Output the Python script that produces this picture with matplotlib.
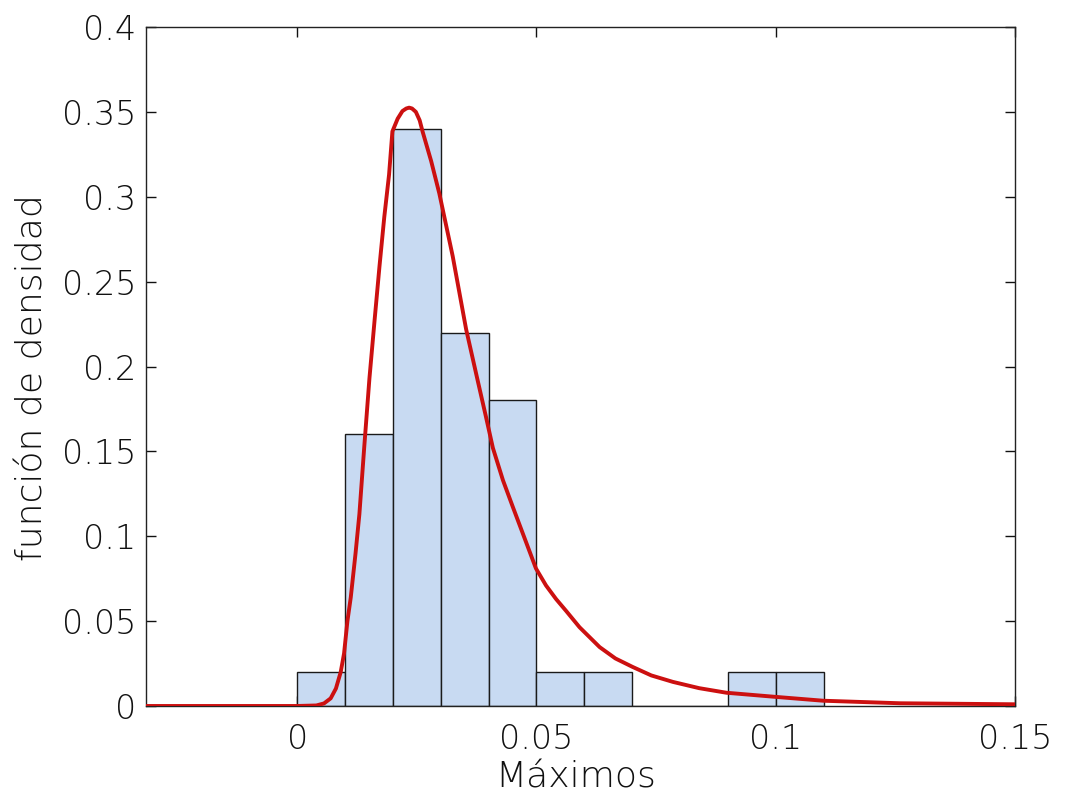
import numpy as np
import matplotlib.pyplot as plt

# histogram (relative frequency per bin of width 0.01)
bin_edges = [0.0, 0.01, 0.02, 0.03, 0.04, 0.05, 0.06, 0.07, 0.08, 0.09, 0.10, 0.11]
bin_heights = [0.02, 0.16, 0.34, 0.22, 0.18, 0.02, 0.02, 0.0, 0.0, 0.02, 0.02]

# fitted density curve
curve_x = [-0.0316, 0.0, 0.0040, 0.0056, 0.0070, 0.0081, 0.0091, 0.0098, 0.0105,
           0.0112, 0.0122, 0.0130, 0.0140, 0.0151, 0.0162, 0.0172, 0.0182, 0.0192,
           0.0199, 0.0210, 0.0220, 0.0228, 0.0234, 0.0240, 0.0248, 0.0256, 0.0262,
           0.0280, 0.0297, 0.0325, 0.0353, 0.0377, 0.0394, 0.0409, 0.0430, 0.0451,
           0.0475, 0.0499, 0.0520, 0.0541, 0.0562, 0.0590, 0.0632, 0.0665, 0.0701,
           0.0740, 0.0785, 0.0840, 0.0897, 0.0994, 0.1099, 0.1260, 0.1500]
curve_y = [0.0, 0.0, 0.0003, 0.0015, 0.0045, 0.0103, 0.020, 0.031, 0.050,
           0.064, 0.090, 0.113, 0.152, 0.193, 0.228, 0.259, 0.288, 0.313,
           0.3385, 0.346, 0.3505, 0.352, 0.3525, 0.352, 0.350, 0.345, 0.3385,
           0.321, 0.302, 0.265, 0.222, 0.192, 0.171, 0.152, 0.133, 0.117,
           0.099, 0.081, 0.071, 0.063, 0.056, 0.0464, 0.0347, 0.028, 0.023,
           0.018, 0.0142, 0.0105, 0.0078, 0.0055, 0.0031, 0.0016, 0.0010]

y_ticks = [0, 0.05, 0.1, 0.15, 0.2, 0.25, 0.3, 0.35, 0.4]
y_labels = ['0', '0.05', '0.1', '0.15', '0.2', '0.25', '0.3', '0.35', '0.4']
x_ticks = [0, 0.05, 0.1, 0.15]
x_labels = ['0', '0.05', '0.1', '0.15']

plt.rcParams['font.family'] = ['DejaVu Sans']
plt.rcParams['font.weight'] = 'light'
plt.rcParams['axes.labelweight'] = 'light'

fig = plt.figure(figsize=(10.7, 7.97), dpi=100)
ax = fig.add_axes([0.1364, 0.1142, 0.8122, 0.8519])

widths = np.diff(bin_edges)
ax.bar(bin_edges[:-1], bin_heights, width=widths, align='edge',
       color='#c8daf2', edgecolor='#1a1a1a', linewidth=1.0, zorder=2)
ax.plot(curve_x, curve_y, color='#cc1010', linewidth=2.8, zorder=3)

ax.set_xlim(-0.0316, 0.15)
ax.set_ylim(0, 0.4)
ax.set_xticks(x_ticks)
ax.set_xticklabels(x_labels)
ax.set_yticks(y_ticks)
ax.set_yticklabels(y_labels)

ax.tick_params(direction='in', length=7, width=1, top=True, right=True,
               labelsize=24, colors='#111111')
ax.tick_params(axis='x', pad=12)
ax.tick_params(axis='y', pad=7)
for s in ax.spines.values():
    s.set_linewidth(1.0)
    s.set_color('#222222')

ax.set_xlabel('Máximos', fontsize=26, color='#111111')
ax.set_ylabel('función de densidad', fontsize=26, color='#111111')
ax.xaxis.set_label_coords(0.494, -0.08)
ax.yaxis.set_label_coords(-0.111, 0.483)

fig.savefig('out.png', dpi=100)
